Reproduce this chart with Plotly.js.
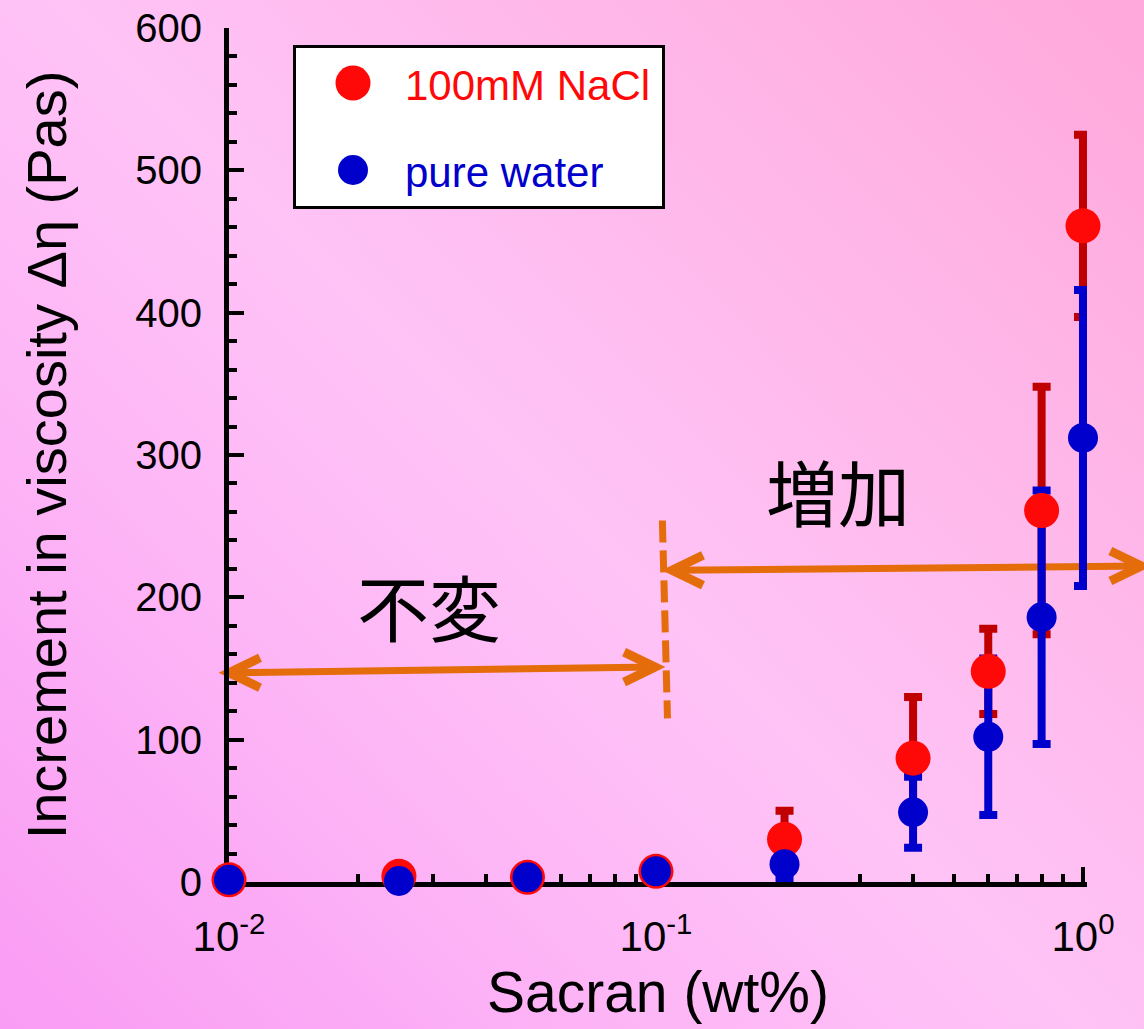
<!DOCTYPE html>
<html>
<head>
<meta charset="utf-8">
<script src="https://cdn.plot.ly/plotly-3.0.1.min.js"></script>
<style>
html,body{margin:0;padding:0;}
body{width:1144px;height:1029px;overflow:hidden;
background:linear-gradient(45deg,#f99bf4 0%,#fdb6f6 30%,#ffc3f6 50%,#ffb6e8 75%,#ffa8dc 100%);}
#chart{width:1144px;height:1029px;}
</style>
</head>
<body>
<div id="chart"></div>
<script>
// ---- data ----
const concentration   = [0.01, 0.025, 0.05, 0.1, 0.2, 0.4, 0.6, 0.8, 1.0];   // Sacran (wt%)
const naclViscosity   = [1.5, 4, 3.3, 7.5, 30, 87, 148, 261, 461];            // 100mM NaCl
const naclError       = [1, 1, 1, 1, 20, 43, 30, 87, 64];
const waterViscosity  = [1.5, 0.7, 3.3, 7.5, 12.5, 49, 102, 186, 312];        // pure water
const waterError      = [1, 1, 1, 1, 10, 25, 55, 89, 104];
const seriesNames     = ['100mM NaCl', 'pure water'];
const xTickVals       = [0.01, 0.1, 1];
const xTickText       = ['10<sup>-2</sup>', '10<sup>-1</sup>', '10<sup>0</sup>'];
const yTickVals       = [0, 100, 200, 300, 400, 500, 600];
const regionLabels    = ['不変', '増加'];
// region annotations in data units: [x, y]
const unchangedArrow  = [[0.01, 147], [0.0995, 151]];
const increaseArrow   = [[0.109, 219], [1.37, 222]];
const boundaryLine    = [[0.1035, 254], [0.1064, 115]];
const labelPos        = [[0.0294, 195], [0.267, 276]];

// ---- styling ----
const RED = '#ff0808', RED_ERR = '#c00000', BLUE = '#0000cd', ORANGE = '#e46c0a';
const FONT = 'Liberation Sans, Arial, Helvetica, sans-serif';
const XMAX = 0.0094;          // log10 of the right end of the x axis
const PWX = 858, PWY = 854;   // plot width / height in px
const fx = x => (Math.log10(x) + 2) / (2 + XMAX);
const fy = y => y / 600;
const px2x = X => (X - 229) / PWX, px2y = Y => (882 - Y) / PWY;

const minorX = [];
[-2, -1].forEach(k => { for (let m = 2; m <= 9; m++) minorX.push(+(m * Math.pow(10, k)).toPrecision(3)); });

const errTrace = (y, err, col) => ({
  x: concentration, y: y, type: 'scatter', mode: 'markers',
  marker: {size: 1, color: 'rgba(0,0,0,0)'},
  error_y: {type: 'data', array: err, visible: true, color: col, thickness: 8, width: 9},
  cliponaxis: false, showlegend: false, hoverinfo: 'skip'
});
const markTrace = (y, col, size, name) => ({
  x: concentration, y: y, type: 'scatter', mode: 'markers', name: name,
  marker: {size: size, color: col, line: {width: 0}},
  cliponaxis: false, showlegend: false
});

const data = [
  errTrace(naclViscosity, naclError, RED_ERR),
  errTrace(waterViscosity, waterError, BLUE),
  markTrace(naclViscosity, RED, 35, seriesNames[0]),
  markTrace(waterViscosity, BLUE, 30, seriesNames[1])
];

// arrows
function chevron(p, dir) { // dir = -1 points left, +1 points right
  const tx = fx(p[0]), ty = fy(p[1]);
  const ax = tx - dir * 31 / PWX, dy = 15 / PWY;
  return {type: 'path', xref: 'paper', yref: 'paper', layer: 'below',
    path: `M ${ax} ${ty + dy} L ${tx} ${ty} L ${ax} ${ty - dy}`,
    line: {color: ORANGE, width: 9}};
}
function segment(a, b, dash) {
  return {type: 'line', xref: 'paper', yref: 'paper', layer: 'below',
    x0: fx(a[0]), y0: fy(a[1]), x1: fx(b[0]), y1: fy(b[1]),
    line: {color: ORANGE, width: 7, dash: dash || 'solid'}};
}

const shapes = [
  segment(unchangedArrow[0], unchangedArrow[1]),
  chevron(unchangedArrow[0], -1), chevron(unchangedArrow[1], 1),
  segment(increaseArrow[0], increaseArrow[1]),
  chevron(increaseArrow[0], -1), chevron(increaseArrow[1], 1),
  segment(boundaryLine[0], boundaryLine[1], '22px,8px'),
  // legend box
  {type: 'rect', xref: 'paper', yref: 'paper', layer: 'above',
   x0: px2x(294.5), x1: px2x(663.5), y0: px2y(207.5), y1: px2y(46.5),
   fillcolor: '#ffffff', line: {color: '#000000', width: 3}},
  {type: 'circle', xref: 'paper', yref: 'paper', xsizemode: 'pixel', ysizemode: 'pixel',
   xanchor: px2x(353), yanchor: px2y(83), x0: -17.5, x1: 17.5, y0: -17.5, y1: 17.5,
   fillcolor: RED, line: {width: 0}},
  {type: 'circle', xref: 'paper', yref: 'paper', xsizemode: 'pixel', ysizemode: 'pixel',
   xanchor: px2x(353), yanchor: px2y(170), x0: -15, x1: 15, y0: -15, y1: 15,
   fillcolor: BLUE, line: {width: 0}}
];

const annotations = [
  {text: regionLabels[0], xref: 'paper', yref: 'paper', x: fx(labelPos[0][0]), y: fy(labelPos[0][1]),
   showarrow: false, xanchor: 'center', yanchor: 'middle',
   font: {family: 'Noto Sans CJK JP', size: 72, color: '#000'}},
  {text: regionLabels[1], xref: 'paper', yref: 'paper', x: fx(labelPos[1][0]), y: fy(labelPos[1][1]),
   showarrow: false, xanchor: 'center', yanchor: 'middle',
   font: {family: 'Noto Sans CJK JP', size: 72, color: '#000'}},
  {text: seriesNames[0], xref: 'paper', yref: 'paper', x: px2x(403), y: px2y(86),
   showarrow: false, xanchor: 'left', yanchor: 'middle',
   font: {family: FONT, size: 42, color: RED}},
  {text: seriesNames[1], xref: 'paper', yref: 'paper', x: px2x(403), y: px2y(173),
   showarrow: false, xanchor: 'left', yanchor: 'middle',
   font: {family: FONT, size: 42, color: BLUE}}
];

const layout = {
  width: 1144, height: 1029,
  margin: {l: 229, r: 1144 - 229 - PWX, t: 28, b: 147, pad: 0},
  paper_bgcolor: 'rgba(0,0,0,0)', plot_bgcolor: 'rgba(0,0,0,0)',
  showlegend: false,
  font: {family: FONT, color: '#000'},
  xaxis: {
    type: 'log', range: [-2, XMAX], showgrid: false, zeroline: false,
    showline: true, linecolor: '#000', linewidth: 5, layer: 'below traces',
    tickmode: 'array', tickvals: xTickVals, ticktext: xTickText,
    ticks: 'inside', ticklen: 15, tickwidth: 4, tickcolor: '#000',
    minor: {tickmode: 'array', tickvals: minorX, ticks: 'inside', ticklen: 8, tickwidth: 4, tickcolor: '#000', showgrid: false},
    tickfont: {family: FONT, size: 42, color: '#000'}, ticklabelstandoff: 14,
    title: {text: 'Sacran (wt%)', font: {family: FONT, size: 57, color: '#000'}, standoff: 12}
  },
  yaxis: {
    range: [0, 600], showgrid: false, zeroline: false,
    showline: true, linecolor: '#000', linewidth: 5, layer: 'below traces',
    tickmode: 'array', tickvals: yTickVals,
    ticks: 'inside', ticklen: 15, tickwidth: 4, tickcolor: '#000',
    minor: {dtick: 20, ticks: 'inside', ticklen: 8, tickwidth: 4, tickcolor: '#000', showgrid: false},
    tickfont: {family: FONT, size: 40, color: '#000'}, ticklabelstandoff: 14,
    title: {text: 'Increment in viscosity Δη (Pas)', font: {family: FONT, size: 56, color: '#000'}, standoff: 52}
  },
  shapes: shapes,
  annotations: annotations
};

Plotly.newPlot('chart', data, layout, {displayModeBar: false, staticPlot: true});
</script>
</body>
</html>
